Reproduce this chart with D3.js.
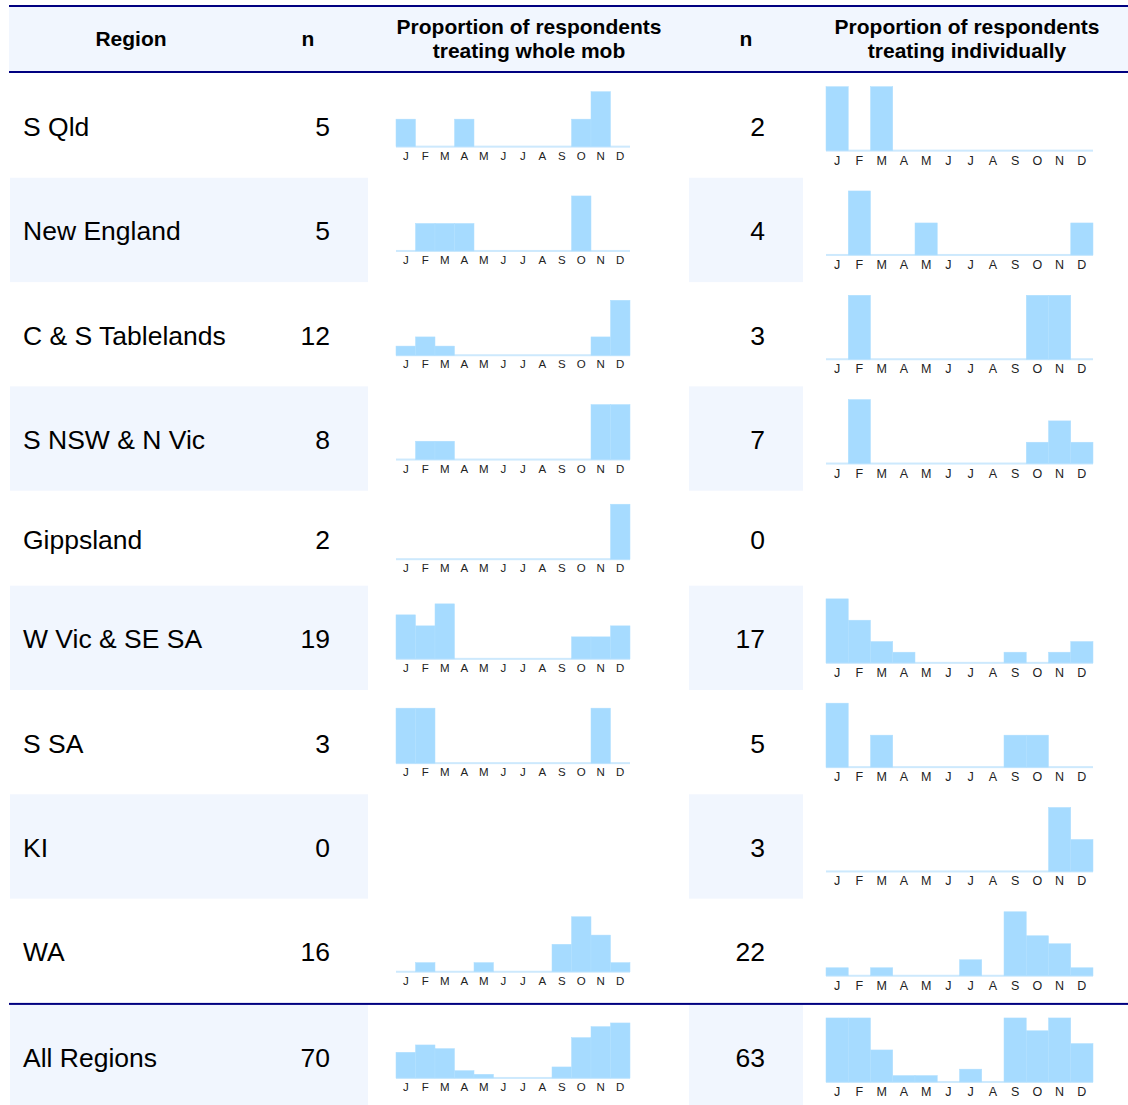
<!DOCTYPE html>
<html>
<head>
<meta charset="utf-8">
<script src="https://cdn.jsdelivr.net/npm/d3@7"></script>
<style>
  html, body { margin: 0; padding: 0; background: #ffffff; }
  svg { display: block; font-family: "Liberation Sans", Arial, sans-serif; }
</style>
</head>
<body>
<svg id="chart" width="1128" height="1105"></svg>
<script>
// ---------------- DATA ----------------
const months = ["J", "F", "M", "A", "M", "J", "J", "A", "S", "O", "N", "D"];
const regions = ["S Qld", "New England", "C & S Tablelands", "S NSW & N Vic", "Gippsland",
                 "W Vic & SE SA", "S SA", "KI", "WA", "All Regions"];
const nWhole = [5, 5, 12, 8, 2, 19, 3, 0, 16, 70];
const nIndividual = [2, 4, 3, 7, 0, 17, 5, 3, 22, 63];
// respondent counts per month (J..D)
const wholeMob = [
  [1, 0, 0, 1, 0, 0, 0, 0, 0, 1, 2, 0],
  [0, 1, 1, 1, 0, 0, 0, 0, 0, 2, 0, 0],
  [1, 2, 1, 0, 0, 0, 0, 0, 0, 0, 2, 6],
  [0, 1, 1, 0, 0, 0, 0, 0, 0, 0, 3, 3],
  [0, 0, 0, 0, 0, 0, 0, 0, 0, 0, 0, 2],
  [4, 3, 5, 0, 0, 0, 0, 0, 0, 2, 2, 3],
  [1, 1, 0, 0, 0, 0, 0, 0, 0, 0, 1, 0],
  [0, 0, 0, 0, 0, 0, 0, 0, 0, 0, 0, 0],
  [0, 1, 0, 0, 1, 0, 0, 0, 3, 6, 4, 1],
  [7, 9, 8, 2, 1, 0, 0, 0, 3, 11, 14, 15]
];
const individually = [
  [1, 0, 1, 0, 0, 0, 0, 0, 0, 0, 0, 0],
  [0, 2, 0, 0, 1, 0, 0, 0, 0, 0, 0, 1],
  [0, 1, 0, 0, 0, 0, 0, 0, 0, 1, 1, 0],
  [0, 3, 0, 0, 0, 0, 0, 0, 0, 1, 2, 1],
  [0, 0, 0, 0, 0, 0, 0, 0, 0, 0, 0, 0],
  [6, 4, 2, 1, 0, 0, 0, 0, 1, 0, 1, 2],
  [2, 0, 1, 0, 0, 0, 0, 0, 1, 1, 0, 0],
  [0, 0, 0, 0, 0, 0, 0, 0, 0, 0, 2, 1],
  [1, 0, 1, 0, 0, 0, 2, 0, 8, 5, 4, 1],
  [10, 10, 5, 1, 1, 0, 2, 0, 10, 8, 10, 6]
];
const headers = {
  region: "Region",
  n: "n",
  whole: ["Proportion of respondents", "treating whole mob"],
  indiv: ["Proportion of respondents", "treating individually"]
};

// ---------------- LAYOUT ----------------
const svg = d3.select("#chart");
const W = 1128;
const left = 9;
const headerTop = 6, headerBottom = 71;
const navy = "#000080";
const shade = "#f1f6fe";
const barColor = "#a6dbff";
const baseColor = "#cde9fd";

// row boundaries
const rowBounds = [];
let yCur = headerBottom + 2.5;
regions.forEach((r, i) => {
  let h = nIndividual[i] === 0 ? 95 : 104.3;
  if (i === regions.length - 1) { yCur += 2; h = 1105 - yCur; }
  rowBounds.push([yCur, yCur + h]);
  yCur += h;
});

// header background
svg.append("rect").attr("x", left).attr("y", headerTop + 1).attr("width", W - left)
  .attr("height", headerBottom - headerTop - 1).attr("fill", shade);

// shaded rows (alternate)
regions.forEach((r, i) => {
  if (i % 2 === 1) {
    const [y0, y1] = rowBounds[i];
    svg.append("rect").attr("x", 10).attr("y", y0).attr("width", 358).attr("height", y1 - y0).attr("fill", shade);
    svg.append("rect").attr("x", 689).attr("y", y0).attr("width", 114).attr("height", y1 - y0).attr("fill", shade);
  }
});

// rules
[headerTop, headerBottom + 1, rowBounds[regions.length - 1][0] - 1].forEach(y => {
  svg.append("rect").attr("x", left).attr("y", y - 1).attr("width", W - left).attr("height", 2).attr("fill", navy);
});

// header text
const hdr = svg.append("g").attr("font-weight", "bold").attr("font-size", 21).attr("fill", "#000")
  .attr("text-anchor", "middle");
hdr.append("text").attr("x", 131).attr("y", 46).text(headers.region);
hdr.append("text").attr("x", 308).attr("y", 46).text(headers.n);
hdr.append("text").attr("x", 746).attr("y", 46).text(headers.n);
headers.whole.forEach((t, k) => hdr.append("text").attr("x", 529).attr("y", 34 + k * 24).text(t));
headers.indiv.forEach((t, k) => hdr.append("text").attr("x", 967).attr("y", 34 + k * 24).text(t));

// scales
const idx = d3.range(12);
const xWhole = d3.scaleBand().domain(idx).range([396, 630]).padding(0);
const xIndiv = d3.scaleBand().domain(idx).range([826, 1093]).padding(0);

function spark(g, x, values, baseline, maxH, fontSize, labelOffset) {
  const mx = d3.max(values);
  const y = d3.scaleLinear().domain([0, mx]).range([baseline, baseline - maxH]);
  g.append("rect").attr("x", x.range()[0]).attr("y", baseline - 1)
    .attr("width", x.range()[1] - x.range()[0]).attr("height", 2).attr("fill", baseColor);
  g.selectAll("rect.bar").data(values).join("rect").attr("class", "bar")
    .attr("x", (d, i) => x(i)).attr("width", x.bandwidth())
    .attr("y", d => y(d)).attr("height", d => baseline - y(d))
    .attr("fill", barColor).attr("stroke", "#b0dfff").attr("stroke-width", 0.5);
  const axis = d3.axisBottom(x).tickSize(0).tickPadding(0).tickFormat(i => months[i]);
  const ag = g.append("g").attr("transform", `translate(0,${baseline + labelOffset})`).call(axis);
  ag.select(".domain").remove();
  ag.selectAll("text").attr("font-size", fontSize).attr("fill", "#222")
    .attr("font-family", "'Liberation Sans', Arial, sans-serif").attr("dy", 0);
}

regions.forEach((r, i) => {
  const [y0, y1] = rowBounds[i];
  const cy = (y0 + y1) / 2 + (i === regions.length - 1 ? 3 : 1);
  const g = svg.append("g");
  g.append("text").attr("x", 23).attr("y", cy).attr("dy", "0.36em").attr("font-size", 26.5).text(r);
  g.append("text").attr("x", 330).attr("y", cy).attr("dy", "0.36em").attr("font-size", 26.5)
    .attr("text-anchor", "end").text(nWhole[i]);
  g.append("text").attr("x", 765).attr("y", cy).attr("dy", "0.36em").attr("font-size", 26.5)
    .attr("text-anchor", "end").text(nIndividual[i]);
  if (nWhole[i] > 0) spark(g.append("g"), xWhole, wholeMob[i], cy + 20, 55, 11.5, 13);
  if (nIndividual[i] > 0) spark(g.append("g"), xIndiv, individually[i], cy + 24, 64, 12.5, 14);
});
</script>
</body>
</html>
